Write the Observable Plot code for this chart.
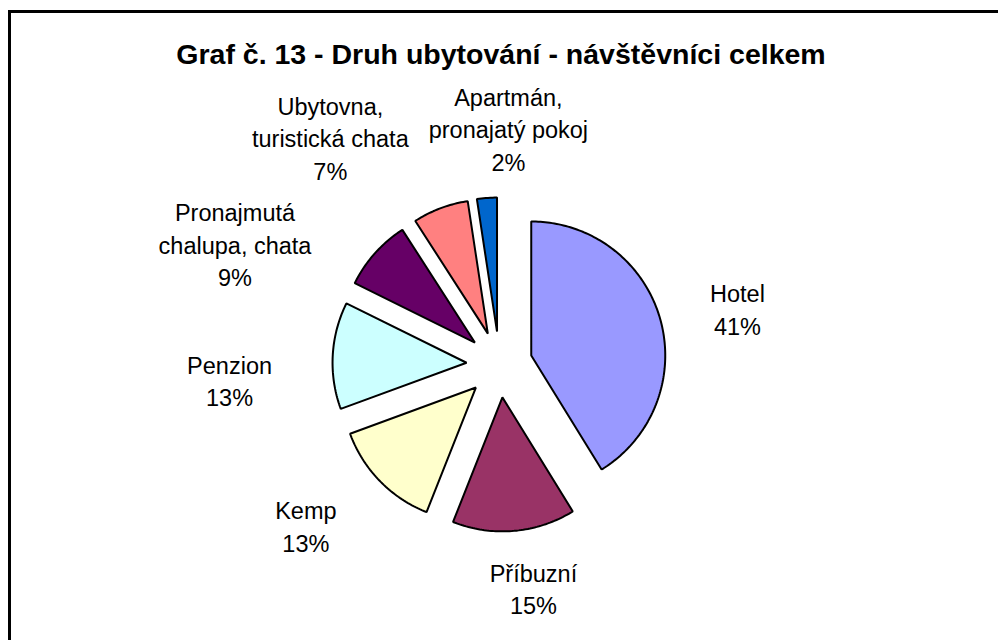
<!DOCTYPE html>
<html><head><meta charset="utf-8">
<script src="https://cdn.jsdelivr.net/npm/d3@7"></script>
<script src="https://cdn.jsdelivr.net/npm/@observablehq/plot@0.6"></script>
<style>
body{margin:0;background:#fff;}
#wrap{position:relative;width:998px;height:640px;overflow:hidden;font-family:"Liberation Sans",Arial,sans-serif;background:#fff;}
#frame{position:absolute;left:8px;top:10px;width:1100px;height:800px;border-left:3px solid #000;border-top:3px solid #000;box-sizing:border-box;}
#title{position:absolute;left:0;width:1002px;top:37px;text-align:center;font-weight:bold;font-size:28.5px;line-height:34px;color:#000;}
#chart{position:absolute;left:0;top:90px;}
</style></head><body>
<div id="wrap"><div id="frame"></div><div id="title">Graf č. 13 - Druh ubytování - návštěvníci celkem</div><div id="chart"></div></div>
<script>
// ---- data ----
const categories = ["Hotel","Příbuzní","Kemp","Penzion","Pronajmutá chalupa, chata","Ubytovna, turistická chata","Apartmán, pronajatý pokoj"];
const shares = [41.2, 14.8, 13.4, 12.9, 8.6, 6.7, 2.4];
const colors = ["#9999FF","#993366","#FFFFCC","#CCFFFF","#660066","#FF8080","#0066CC"];

// ---- layout ----
const W = 998, H = 550, R = 134, CX = 499, CY = 274;
const explode = 33 / R;
const FONT = '"Liberation Sans", Arial, sans-serif';
const FS = 23.5, LINE = 32.5, WRAP = 172;
// label angular (deg) and radial (px) nudges, as the original best-fit placement spreads them
const labelNudgeDeg = [3.2, -3.5, 4.1, -6.9, -17.7, -16.3, 6.5];
const labelNudgeR = [10, -10, 9, 26, 0, -5, -18];

const ctx = document.createElement("canvas").getContext("2d");
ctx.font = `${FS}px ${FONT}`;
const measure = s => ctx.measureText(s).width;
function wrap(str) {
  const words = str.split(" "); const lines = []; let cur = "";
  for (const w of words) {
    const t = cur ? cur + " " + w : w;
    if (cur && measure(t) > WRAP) { lines.push(cur); cur = w; } else cur = t;
  }
  lines.push(cur); return lines;
}

const total = d3.sum(shares);
let acc = 0;
const slices = shares.map((v, i) => {
  const a0 = acc / total * 2 * Math.PI; acc += v;
  const a1 = acc / total * 2 * Math.PI;
  const mid = (a0 + a1) / 2;
  const ox = explode * Math.sin(mid), oy = explode * Math.cos(mid);
  const n = Math.max(2, Math.ceil((a1 - a0) * 180 / Math.PI));
  const pts = [{x: ox, y: oy}];
  for (let k = 0; k <= n; k++) {
    const t = a0 + (a1 - a0) * k / n;
    pts.push({x: ox + Math.sin(t), y: oy + Math.cos(t)});
  }
  return {i, mid, pts, color: colors[i]};
});

const labels = slices.map(s => {
  const lines = [...wrap(categories[s.i]), `${Math.round(shares[s.i] / total * 100)}%`];
  const w = d3.max(lines, measure), h = lines.length * LINE;
  const phi = s.mid + labelNudgeDeg[s.i] * Math.PI / 180;
  const ext = Math.abs(Math.sin(phi)) * w / 2 + Math.abs(Math.cos(phi)) * h / 2;
  const rc = 200 + ext + labelNudgeR[s.i];
  return {x: rc * Math.sin(phi) / R, y: rc * Math.cos(phi) / R, text: lines.join("\n")};
});

const chart = Plot.plot({
  width: W, height: H, margin: 0,
  x: {domain: [-CX / R, (W - CX) / R], axis: null},
  y: {domain: [(CY - H) / R, CY / R], axis: null},
  style: {fontFamily: FONT, background: "transparent", overflow: "visible"},
  marks: [
    ...slices.map(s => Plot.line(s.pts, {x: "x", y: "y", fill: s.color, stroke: "#000", strokeWidth: 2, curve: "linear-closed", strokeLinejoin: "miter"})),
    Plot.text(labels, {x: "x", y: "y", text: "text", fontSize: FS, lineHeight: LINE / FS, textAnchor: "middle", dy: -3, fill: "#000", fontFamily: FONT})
  ]
});
document.getElementById("chart").appendChild(chart);
</script>
</body></html>
